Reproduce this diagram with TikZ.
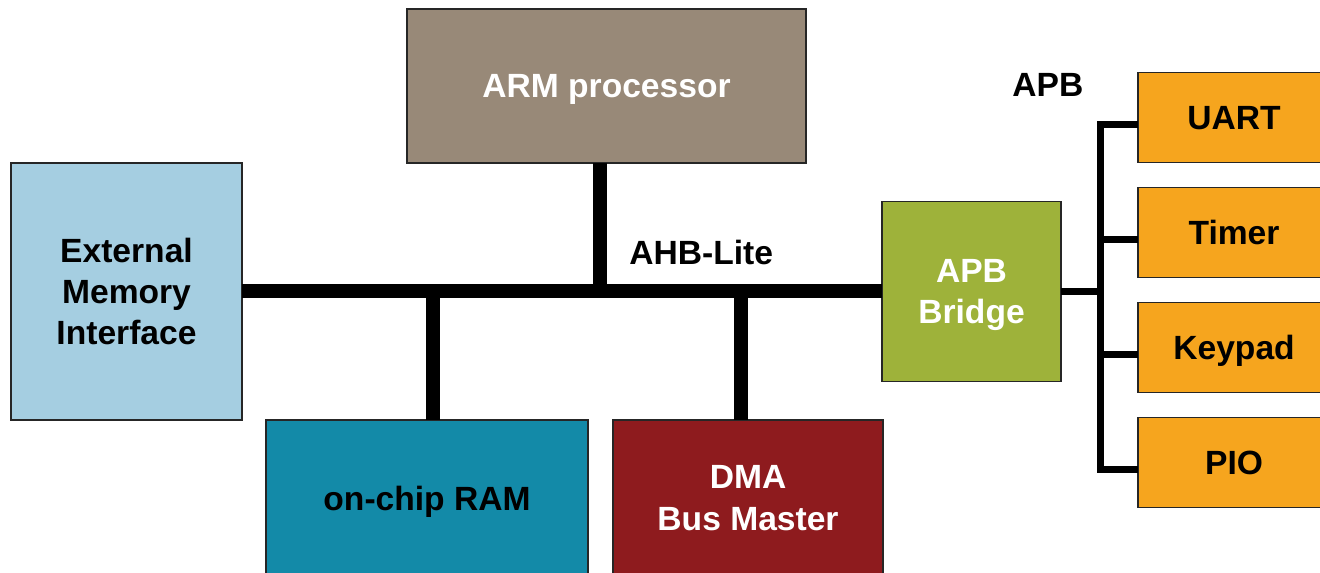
\documentclass[tikz,border=0pt]{standalone}
\usepackage{fontspec}
\setmainfont{Liberation Sans}
\usetikzlibrary{positioning}
\definecolor{armgray}{HTML}{988978}
\definecolor{emiblue}{HTML}{A5CEE1}
\definecolor{ramteal}{HTML}{138AA8}
\definecolor{dmared}{HTML}{8E1B1E}
\definecolor{apbgreen}{HTML}{9EB23A}
\definecolor{periorange}{HTML}{F6A51E}

\begin{document}
\begin{tikzpicture}
  \tikzset{
    box/.style={draw=black!85, line width=0.8pt, rectangle, align=center, inner sep=0pt, outer sep=0pt, text depth=0pt, font=\fontsize{16.8}{20.6}\selectfont\bfseries},
    periph/.style={box, fill=periorange, minimum width=3.374cm, minimum height=1.582cm},
    lbl/.style={font=\fontsize{16.8}{20.6}\selectfont\bfseries},
    ahb/.style={draw, line width=7pt},
    apb/.style={draw, line width=3.5pt},
    on grid,
  }
  \useasboundingbox (-2.223,-4.947) rectangle (20.973,5.122);
  \clip (-2.223,-4.947) rectangle (20.973,5.122);

  \node [box, fill=emiblue, minimum width=4.059cm, minimum height=4.516cm] (emi) {External\\Memory\\Interface};
  \node [box, fill=armgray, text=white, minimum width=7.012cm, minimum height=2.706cm, above right=3.611cm and 8.435cm of emi] (arm) {ARM processor};
  \node [box, fill=ramteal, minimum width=5.658cm, minimum height=2.741cm, below right=3.629cm and 5.281cm of emi] (ram) {on-chip RAM};
  \node [box, fill=dmared, text=white, minimum width=4.745cm, minimum height=2.741cm, right=5.641cm of ram] (dma) {DMA\\Bus Master};
  \node [box, fill=apbgreen, text=white, minimum width=3.146cm, minimum height=3.163cm, right=14.849cm of emi] (bridge) {APB\\Bridge};
  \node [periph, above right=3.058cm and 4.613cm of bridge] (uart) {UART};
  \node [periph, below=2.021cm of uart] (timer) {Timer};
  \node [periph, below=2.021cm of timer] (keypad) {Keypad};
  \node [periph, below=2.021cm of keypad] (pio) {PIO};

  \node [lbl] (ahblbl) at (10.10,0.69) {AHB-Lite};
  \node [lbl] (apblbl) at (16.19,3.63) {APB};

  \coordinate (tram) at (5.386,0);
  \coordinate (tarm) at (8.321,0);
  \coordinate (tdma) at (10.799,0);
  \coordinate (apbj) at (17.108,0);
  \foreach \p in {uart,timer,keypad,pio}
    \coordinate (\p-in) at ([yshift=-3.5pt]\p.west);

  % AHB-Lite bus
  \path [ahb] (emi.east) -- (bridge.west);
  \path [ahb] (tarm |- arm.south) -- (tarm);
  \path [ahb] (tram) -- (tram |- ram.north);
  \path [ahb] (tdma) -- (tdma |- dma.north);

  % APB bus
  \path [apb] (bridge.east) -- (apbj);
  \path [apb] (uart-in) -| (apbj |- pio-in) -- (pio-in);
  \foreach \p in {timer,keypad}
    \path [apb] (\p-in) -- (apbj |- \p-in);

\end{tikzpicture}
\end{document}
